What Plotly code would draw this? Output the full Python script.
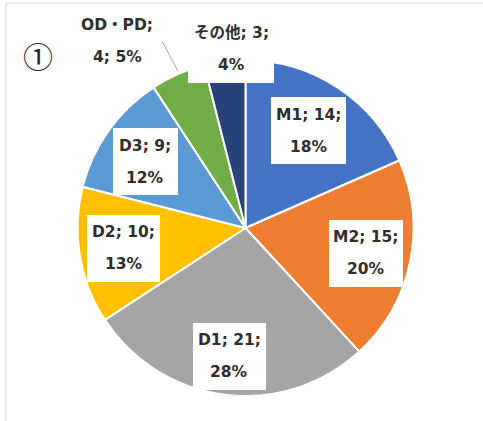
import math
import plotly.graph_objects as go

# ---- data ----
categories = ["M1", "M2", "D1", "D2", "D3", "OD・PD", "その他"]
values = [14, 15, 21, 10, 9, 4, 3]
colors = ["#4472C4", "#ED7D31", "#A5A5A5", "#FFC000", "#5B9BD5", "#70AD47", "#264478"]
panel_label = "①"

# ---- layout / styling ----
W, H = 483, 421
CX, CY, R = 245.5, 228.0, 168.0
lab_r = [0.69, 0.73, 0.77, 0.735, 0.715, 1.35, 1.066]     # label distance / radius
lab_dang = [0, 0, 0, 0, -2, -10.7, 2.5]                   # label angle shift (deg)
box_w = [75, 74, 73, 73, 65, 0, 86]
box_h = 67
line_gap = 16
FONT = "DejaVu Sans, Noto Sans CJK JP, sans-serif"
TXT = "#2e2e2e"


def px(x):
    return x / W


def py(y):
    return 1 - y / H


total = sum(values)
fig = go.Figure(go.Pie(
    labels=categories, values=values, sort=False, direction="clockwise", rotation=0,
    marker=dict(colors=colors, line=dict(color="white", width=2)),
    textinfo="none", hoverinfo="label+value+percent", showlegend=False,
    domain=dict(x=[px(CX - R), px(CX + R)], y=[py(CY + R), py(CY - R)]),
))

annotations = []
shapes = []
cum = 0
for i, (cat, v) in enumerate(zip(categories, values)):
    mid = (cum + v / 2) / total * 360
    cum += v
    ang = math.radians(mid + lab_dang[i])
    lx = CX + lab_r[i] * R * math.sin(ang)
    ly = CY - lab_r[i] * R * math.cos(ang)
    pct = round(v / total * 100)
    if box_w[i] > 0:
        annotations.append(dict(x=px(lx), y=py(ly), xref="paper", yref="paper", text=" ",
                                showarrow=False, width=box_w[i], height=box_h,
                                bgcolor="white", borderpad=0, borderwidth=0,
                                xanchor="center", yanchor="middle"))
    if i == 5:
        line1, line2 = f"{cat};", f"{v}; {pct}%"
        ex = CX + 1.0 * R * math.sin(math.radians(mid))
        ey = CY - 1.0 * R * math.cos(math.radians(mid))
        shapes.append(dict(type="line", xref="paper", yref="paper",
                           x0=px(lx + 45), y0=py(ly + 1), x1=px(ex), y1=py(ey - 3),
                           line=dict(color="#A6A6A6", width=1)))
    else:
        line1, line2 = f"{cat}; {v};", f"{pct}%"
    for t, dy in ((line1, -line_gap), (line2, line_gap)):
        annotations.append(dict(x=px(lx), y=py(ly + dy), xref="paper", yref="paper",
                                text=f"<b>{t}</b>", showarrow=False,
                                font=dict(family=FONT, size=15.5, color=TXT),
                                xanchor="center", yanchor="middle"))

annotations.append(dict(x=px(38), y=py(55), xref="paper", yref="paper", text=panel_label,
                        showarrow=False,
                        font=dict(family="Noto Sans CJK JP", size=30, color="#262626"),
                        xanchor="center", yanchor="middle"))

# chart-area border
shapes.append(dict(type="rect", xref="paper", yref="paper", x0=px(6), y0=py(3),
                   x1=px(W + 20), y1=py(H + 20), line=dict(color="#D9D9D9", width=1),
                   layer="below"))

fig.update_layout(width=W, height=H, margin=dict(l=0, r=0, t=0, b=0),
                  paper_bgcolor="white", plot_bgcolor="white",
                  annotations=annotations, shapes=shapes)
fig.write_html("out.html", config={"displayModeBar": False},
               post_script="document.body.style.margin='0';document.body.style.overflow='hidden';")
